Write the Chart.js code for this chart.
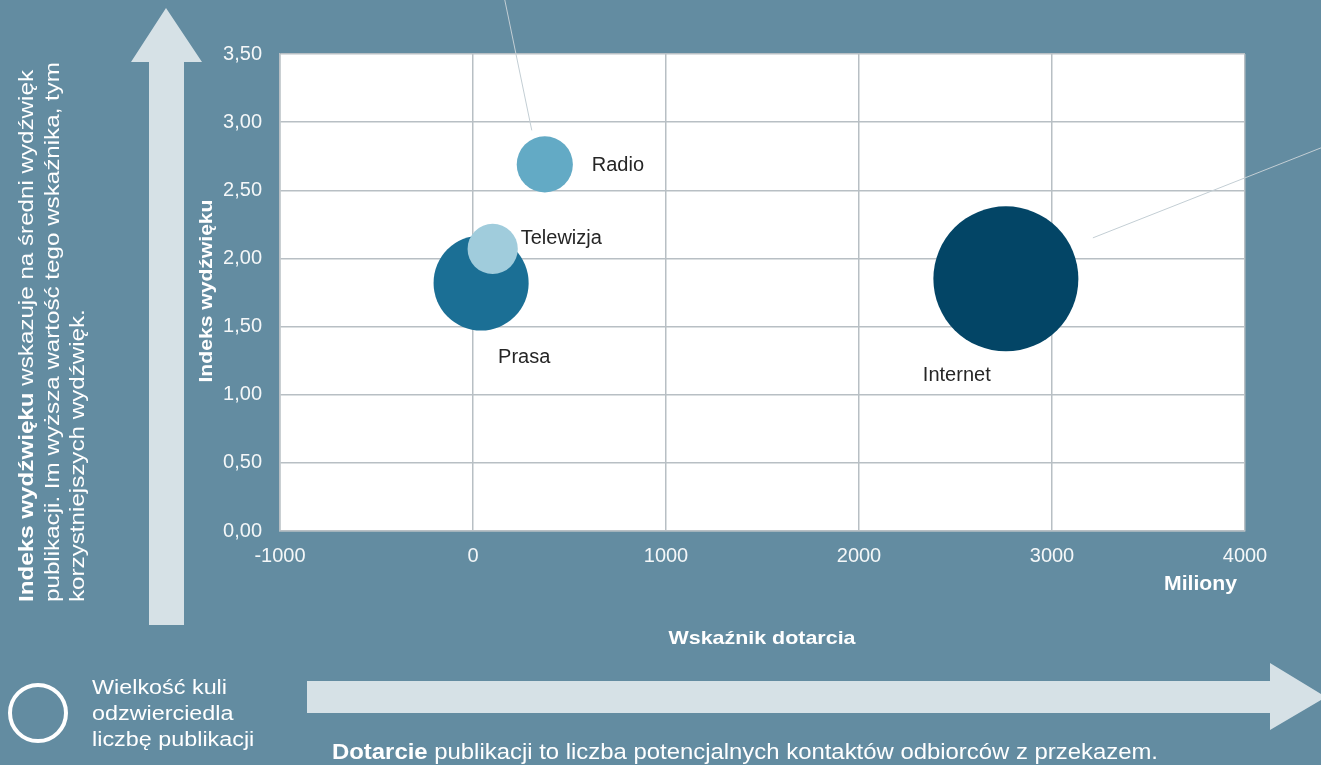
<!DOCTYPE html>
<html>
<head>
<meta charset="utf-8">
<script src="https://cdn.jsdelivr.net/npm/chart.js@4.4.1/dist/chart.umd.min.js"></script>
<style>
  html, body { margin: 0; padding: 0; background: #638ca1; overflow: hidden; }
</style>
</head>
<body>
<canvas id="bubbleChart" width="1321" height="765"></canvas>
<script>
// dane
const categories = ['Prasa', 'Telewizja', 'Radio', 'Internet'];
const dotarcie = [42, 102, 372, 2761];        // mln
const wydzwiek = [1.82, 2.07, 2.69, 1.85];
const publikacje = [4300, 1200, 1500, 10000];  // wielkość kuli
const xTicks = [-1000, 0, 1000, 2000, 3000, 4000];
const yTicks = [0, 0.5, 1, 1.5, 2, 2.5, 3, 3.5];

// styl
const BG = '#638ca1';
const ARROW = '#d6e1e6';
const GRID = '#b8bfc4';
const FONT = '"Liberation Sans", Arial, sans-serif';
const colors = ['#1b6f95', '#a0ccdc', '#63aac5', '#034566'];
const labelOffsets = { Prasa: [17, 75], Telewizja: [28, -10], Radio: [47, 1], Internet: [-83, 97] };
const maxRadius = 72.5;

const maxPub = Math.max(...publikacje);
const points = categories.map((c, i) => ({
  x: dotarcie[i],
  y: wydzwiek[i],
  r: maxRadius * Math.sqrt(publikacje[i] / maxPub)
}));

function drawRuns(ctx, runs, size, x, y, opts) {
  const fonts = runs.map(r => (r[1] ? 'bold ' : '') + size + 'px ' + FONT);
  let total = 0;
  runs.forEach((r, i) => { ctx.font = fonts[i]; total += ctx.measureText(r[0]).width; });
  const sx = opts.width ? opts.width / total : (opts.sx || 1);
  ctx.save();
  ctx.translate(x, y);
  if (opts.rotate) ctx.rotate(-Math.PI / 2);
  ctx.scale(sx, 1);
  let cx = opts.align === 'center' ? -total / 2 : 0;
  ctx.textAlign = 'left';
  ctx.textBaseline = 'alphabetic';
  ctx.fillStyle = opts.color || '#ffffff';
  runs.forEach((r, i) => {
    ctx.font = fonts[i];
    ctx.fillText(r[0], cx, 0);
    cx += ctx.measureText(r[0]).width;
  });
  ctx.restore();
  return sx;
}

const decor = {
  id: 'decor',
  beforeDraw(chart) {
    const ctx = chart.ctx, a = chart.chartArea;
    ctx.save();
    ctx.fillStyle = BG;
    ctx.fillRect(0, 0, chart.width, chart.height);
    ctx.fillStyle = ARROW;
    // strzałka w górę
    ctx.beginPath();
    ctx.moveTo(166, 8); ctx.lineTo(202, 62); ctx.lineTo(184, 62); ctx.lineTo(184, 625);
    ctx.lineTo(149, 625); ctx.lineTo(149, 62); ctx.lineTo(131, 62);
    ctx.closePath(); ctx.fill();
    // strzałka w prawo
    ctx.beginPath();
    ctx.moveTo(307, 681); ctx.lineTo(1270, 681); ctx.lineTo(1270, 663); ctx.lineTo(1326, 697);
    ctx.lineTo(1270, 730); ctx.lineTo(1270, 713); ctx.lineTo(307, 713);
    ctx.closePath(); ctx.fill();
    ctx.fillStyle = '#ffffff';
    ctx.fillRect(a.left, a.top, a.width, a.height);
    ctx.restore();
  },
  afterDatasetsDraw(chart) {
    const ctx = chart.ctx;
    const meta = chart.getDatasetMeta(0);
    ctx.save();
    // linie odniesienia
    ctx.strokeStyle = '#c3ced4';
    ctx.lineWidth = 1;
    const radio = meta.data[2], net = meta.data[3];
    ctx.beginPath();
    ctx.moveTo(radio.x - 13, radio.y - 34); ctx.lineTo(radio.x - 40, 0);
    ctx.moveTo(net.x + 87, net.y - 41); ctx.lineTo(1321, net.y - 131);
    ctx.stroke();
    // etykiety
    ctx.font = '20px ' + FONT;
    ctx.fillStyle = '#262626';
    ctx.textAlign = 'left';
    ctx.textBaseline = 'middle';
    meta.data.forEach((el, i) => {
      const off = labelOffsets[categories[i]];
      ctx.fillText(categories[i], el.x + off[0], el.y + off[1]);
    });
    ctx.restore();
  },
  afterDraw(chart) {
    const ctx = chart.ctx;
    // tekst po lewej (pionowy)
    const sx = drawRuns(ctx, [['publikacji. Im wyższa wartość tego wskaźnika, tym', false]], 21, 59, 602, { rotate: true, width: 540 });
    drawRuns(ctx, [['Indeks wydźwięku', true], [' wskazuje na średni wydźwięk', false]], 21, 33, 602, { rotate: true, sx });
    drawRuns(ctx, [['korzystniejszych wydźwięk.', false]], 21, 84, 602, { rotate: true, sx });
    // tytuł osi Y
    drawRuns(ctx, [['Indeks wydźwięku', true]], 19, 212, 291, { rotate: true, width: 183, align: 'center' });
    // jednostka i tytuł osi X
    drawRuns(ctx, [['Miliony', true]], 20, 1164, 590, { width: 73 });
    drawRuns(ctx, [['Wskaźnik dotarcia', true]], 19, 762, 644, { width: 187, align: 'center' });
    // legenda wielkości kuli
    ctx.save();
    ctx.strokeStyle = '#ffffff';
    ctx.lineWidth = 4;
    ctx.beginPath();
    ctx.arc(38, 713, 28, 0, Math.PI * 2);
    ctx.stroke();
    ctx.restore();
    const lsx = drawRuns(ctx, [['Wielkość kuli', false]], 20, 92, 694, { width: 135 });
    drawRuns(ctx, [['odzwierciedla', false]], 20, 92, 720, { sx: lsx });
    drawRuns(ctx, [['liczbę publikacji', false]], 20, 92, 746, { sx: lsx });
    // opis dotarcia
    drawRuns(ctx, [['Dotarcie', true], [' publikacji to liczba potencjalnych kontaktów odbiorców z przekazem.', false]], 22, 332, 759, { width: 826 });
  }
};

const ctx = document.getElementById('bubbleChart').getContext('2d');
new Chart(ctx, {
  type: 'bubble',
  data: {
    labels: categories,
    datasets: [{
      label: 'Media',
      data: points,
      backgroundColor: colors,
      borderWidth: 0,
      hoverBorderWidth: 0
    }]
  },
  options: {
    responsive: false,
    devicePixelRatio: 1,
    animation: false,
    layout: { autoPadding: false, padding: { left: 200, top: 54, right: 76, bottom: 194 } },
    plugins: {
      legend: { display: false },
      tooltip: { enabled: false }
    },
    scales: {
      x: {
        type: 'linear',
        min: -1000,
        max: 4000,
        afterBuildTicks: s => { s.ticks = xTicks.map(v => ({ value: v })); },
        afterFit: s => { s.height = 40; },
        grid: { color: GRID, lineWidth: 1.5, drawTicks: false },
        border: { color: GRID, width: 1.5 },
        ticks: {
          color: '#f4f7f8',
          font: { family: FONT, size: 20 },
          padding: 13,
          maxRotation: 0,
          callback: v => String(v)
        }
      },
      y: {
        type: 'linear',
        min: 0,
        max: 3.5,
        afterBuildTicks: s => { s.ticks = yTicks.map(v => ({ value: v })); },
        afterFit: s => { s.width = 80; },
        grid: { color: GRID, lineWidth: 1.5, drawTicks: false },
        border: { color: GRID, width: 1.5 },
        ticks: {
          color: '#f4f7f8',
          font: { family: FONT, size: 20 },
          padding: 18,
          callback: v => v.toFixed(2).replace('.', ',')
        }
      }
    }
  },
  plugins: [decor]
});
</script>
</body>
</html>
